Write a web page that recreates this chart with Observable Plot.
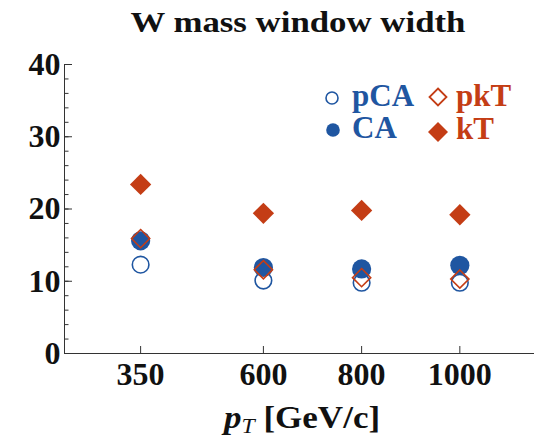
<!DOCTYPE html>
<html>
<head>
<meta charset="utf-8">
<script src="https://cdn.jsdelivr.net/npm/d3@7"></script>
<script src="https://cdn.jsdelivr.net/npm/@observablehq/plot@0.6"></script>
<style>
  html, body { margin: 0; padding: 0; background: #fff; overflow: hidden; }
  #wrap { position: relative; width: 537px; height: 440px; font-family: "Liberation Serif", "Times New Roman", serif; color: #111; }
  #title { height: 44px; line-height: 44px; font-size: 30px; font-weight: bold; position: relative; }
  #title span { position: absolute; left: 298px; transform: translateX(-50%) scaleX(1.16); white-space: nowrap; }
  #xlabel { height: 40px; line-height: 36px; font-size: 31px; font-weight: bold; position: relative; }
  #xlabel span.lab { position: absolute; left: 302px; transform: translateX(-50%) scaleX(1.13); white-space: nowrap; }
  #xlabel i.p { font-style: italic; }
  #xlabel i.sub { font-style: italic; font-weight: normal; font-size: 21px; position: relative; top: 5px; }
  #legend { position: absolute; left: 0; top: 0; pointer-events: none; }
</style>
</head>
<body>
<div id="wrap">
  <div id="title"><span>W mass window width</span></div>
  <div id="chart"></div>
  <div id="xlabel"><span class="lab"><i class="p">p</i><i class="sub">T</i> [GeV/c]</span></div>
</div>
<script>
// ---- data ----
const pT = [350, 600, 800, 1000];
const pCA = [12.3, 10.1, 9.8, 9.8];
const CA  = [15.6, 11.9, 11.7, 12.2];
const pkT = [15.9, 11.6, 10.5, 10.3];
const kT  = [23.4, 19.4, 19.8, 19.2];
const yTicks = [0, 10, 20, 30, 40];
const yMinorTicks = d3.range(0, 41, 2);
const xTicks = [350, 600, 800, 1000];
const seriesNames = ["pCA", "pkT", "CA", "kT"];

const blue = "#1f56a1";
const red = "#c43d15";
const axisColor = "#333";

const rows = vals => pT.map((x, i) => ({x, y: vals[i]}));
const plain = d => String(d);

const chart = Plot.plot({
  width: 537,
  height: 356,
  marginTop: 20,
  marginBottom: 47,
  marginLeft: 64,
  marginRight: 4,
  x: {domain: [195, 1150]},
  y: {domain: [0, 40]},
  style: {fontFamily: "'Liberation Serif', 'Times New Roman', serif", fontSize: "32px", fontWeight: "bold", color: "#111", background: "transparent", overflow: "visible"},
  marks: [
    Plot.frame({anchor: "left", stroke: axisColor}),
    Plot.frame({anchor: "bottom", stroke: axisColor}),
    // inward minor ticks on y
    Plot.axisY({ticks: yMinorTicks, tickSize: 4.5, dx: 4.5, fill: "none", label: null, stroke: axisColor}),
    // inward major ticks on y
    Plot.axisY({ticks: yTicks, tickSize: 8, dx: 8, fill: "none", label: null, stroke: axisColor}),
    // y labels
    Plot.axisY({ticks: yTicks, tickSize: 0, tickPadding: 4, tickFormat: plain, label: null, fill: "#111"}),
    // inward x ticks
    Plot.axisX({ticks: xTicks, tickSize: 7, dy: -7, fill: "none", label: null, stroke: axisColor}),
    // x labels
    Plot.axisX({ticks: xTicks, tickSize: 0, tickPadding: 9, tickFormat: plain, label: null, fill: "#111"}),
    // series
    Plot.dot(rows(pCA), {x: "x", y: "y", r: 8.3, stroke: blue, strokeWidth: 1.6, fill: "none"}),
    Plot.dot(rows(CA), {x: "x", y: "y", r: 9.6, fill: blue, stroke: "none"}),
    Plot.dot(rows(pkT), {x: "x", y: "y", symbol: "diamond2", r: 8.2, stroke: red, strokeWidth: 1.6, fill: "none"}),
    Plot.dot(rows(kT), {x: "x", y: "y", symbol: "diamond2", r: 9.6, fill: red, stroke: "none"})
  ]
});
document.getElementById("chart").appendChild(chart);

// ---- legend overlay ----
const legendItems = [
  {name: seriesNames[0], color: blue, shape: "circle", filled: false, cx: 332, cy: 98, size: 6, tx: 352, ty: 106},
  {name: seriesNames[1], color: red, shape: "diamond", filled: false, cx: 438, cy: 97, size: 8.5, tx: 456, ty: 106},
  {name: seriesNames[2], color: blue, shape: "circle", filled: true, cx: 333, cy: 130, size: 6.8, tx: 352, ty: 138},
  {name: seriesNames[3], color: red, shape: "diamond", filled: true, cx: 438, cy: 132, size: 10, tx: 456, ty: 139}
];
const leg = d3.select("#wrap").append("svg")
  .attr("id", "legend")
  .attr("width", 537).attr("height", 440);
for (const it of legendItems) {
  if (it.shape === "circle") {
    leg.append("circle").attr("cx", it.cx).attr("cy", it.cy).attr("r", it.size)
      .attr("fill", it.filled ? it.color : "none")
      .attr("stroke", it.filled ? "none" : it.color).attr("stroke-width", 1.6);
  } else {
    const s = it.size;
    leg.append("path")
      .attr("d", `M${it.cx},${it.cy - s}L${it.cx + s},${it.cy}L${it.cx},${it.cy + s}L${it.cx - s},${it.cy}Z`)
      .attr("fill", it.filled ? it.color : "none")
      .attr("stroke", it.filled ? "none" : it.color).attr("stroke-width", 1.8);
  }
  leg.append("text").attr("x", it.tx).attr("y", it.ty)
    .attr("fill", it.color)
    .style("font-family", "'Liberation Serif', 'Times New Roman', serif")
    .style("font-weight", "bold").style("font-size", "31px")
    .text(it.name);
}
</script>
</body>
</html>
